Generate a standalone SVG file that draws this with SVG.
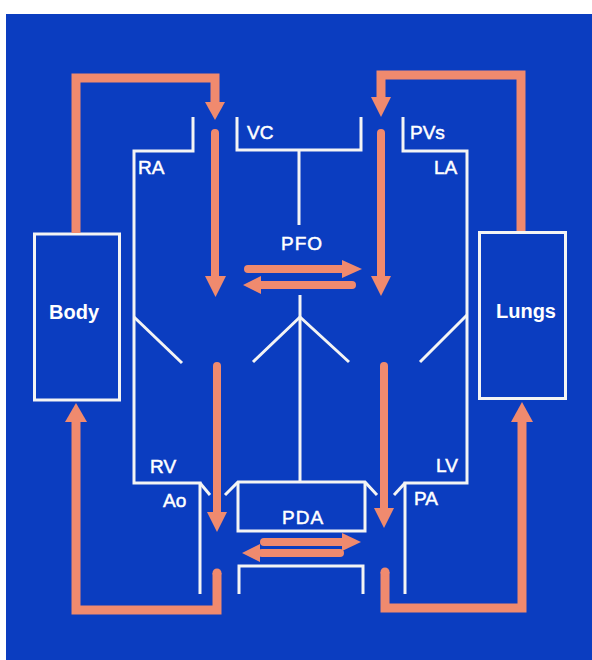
<svg xmlns="http://www.w3.org/2000/svg" width="592" height="660" viewBox="0 0 592 660">
<style>
.w{fill:none;stroke:#f4f4f4;stroke-width:3;stroke-linejoin:miter}
.box{fill:none;stroke:#f4f4f4;stroke-width:3}
.flow{fill:none;stroke:#f08a6e;stroke-width:9;stroke-linejoin:miter}
.inner{fill:none;stroke:#f08a6e;stroke-width:8;stroke-linecap:round}
.head{fill:#f08a6e}
.lbl{font-family:"Liberation Sans",Arial,sans-serif;font-size:19px;fill:#fff;stroke:#fff;stroke-width:0.5}
.big{font-family:"Liberation Sans",Arial,sans-serif;font-size:20px;font-weight:bold;fill:#fff;text-anchor:middle}
</style>
<rect x="0" y="0" width="592" height="660" fill="#ffffff"/>
<rect x="6" y="14" width="586" height="646" fill="#0b3dc0"/>

<g id="body">
<rect class="box" x="34.5" y="234" width="85" height="166"/>
<text class="big" x="74" y="319">Body</text>
</g>
<g id="lungs">
<rect class="box" x="479.5" y="232.5" width="86" height="166"/>
<text class="big" x="526" y="318">Lungs</text>
</g>

<g id="right-heart">
<path class="w" d="M193,117 V151 H134 V483 H200 V594"/>
<path class="w" d="M200,483 L210,495"/>
<path class="w" d="M134,317 L182,363"/>
<text class="lbl" x="138" y="174">RA</text>
<text class="lbl" x="150" y="473">RV</text>
<text class="lbl" x="163" y="507">Ao</text>
</g>

<g id="vc">
<path class="w" d="M237,117 V150 H361 V117"/>
<path class="w" d="M299,150 V225"/>
<text class="lbl" x="247" y="139">VC</text>
</g>

<g id="left-heart">
<path class="w" d="M403,117 V151 H467 V483 H405 V594"/>
<path class="w" d="M405,483 L394,495"/>
<path class="w" d="M467,315 L420,362"/>
<text class="lbl" x="410" y="139">PVs</text>
<text class="lbl" x="434" y="174">LA</text>
<text class="lbl" x="436" y="472">LV</text>
<text class="lbl" x="414" y="505">PA</text>
</g>

<g id="septum">
<path class="w" d="M300,295 V482"/>
<path class="w" d="M300,317 L253,362 M300,317 L349,362"/>
<text class="lbl" x="281" y="250" style="letter-spacing:1px">PFO</text>
</g>

<g id="pda">
<path class="w" d="M225,495 L238,482 H365 L377,495"/>
<path class="w" d="M238,482 V531 H365 V482"/>
<path class="w" d="M239,594 V566 H363 V594"/>
<text class="lbl" x="282" y="524" style="letter-spacing:1px">PDA</text>
</g>

<g id="connectors">
<path class="flow" d="M76,233 V78 H215 V104"/>
<polygon class="head" points="205,102 225,102 215,120"/>
<path class="flow" d="M521,231 V75 H381 V99"/>
<polygon class="head" points="371,97 391,97 381,117"/>
<path class="flow" d="M217,573 V610 H76 V420"/>
<circle class="head" cx="217" cy="573" r="4.5"/>
<polygon class="head" points="65,422 87,422 76,403"/>
<path class="flow" d="M385,572 V608 H522 V420"/>
<circle class="head" cx="385" cy="572" r="4.5"/>
<polygon class="head" points="511,422 533,422 522,402"/>

<line class="inner" x1="215" y1="133" x2="215" y2="278"/>
<polygon class="head" points="205,276 226,276 215.5,297"/>
<line class="inner" x1="217" y1="366" x2="217" y2="514"/>
<polygon class="head" points="207,512 227,512 217,532"/>
<line class="inner" x1="381" y1="133" x2="381" y2="278"/>
<polygon class="head" points="371,276 391,276 381,296"/>
<line class="inner" x1="384" y1="366" x2="384" y2="510"/>
<polygon class="head" points="374,508 394,508 384,528"/>

<line class="inner" x1="248" y1="269" x2="345" y2="269"/>
<polygon class="head" points="342,260 342,278 362,269"/>
<line class="inner" x1="352" y1="285" x2="259" y2="285"/>
<polygon class="head" points="261,276 261,294 243,285"/>

<line class="inner" x1="264" y1="542" x2="344" y2="542"/>
<polygon class="head" points="342,533 342,551 361,542"/>
<line class="inner" x1="340" y1="553" x2="262" y2="553"/>
<polygon class="head" points="260,544 260,562 242,553"/>
</g>
</svg>
